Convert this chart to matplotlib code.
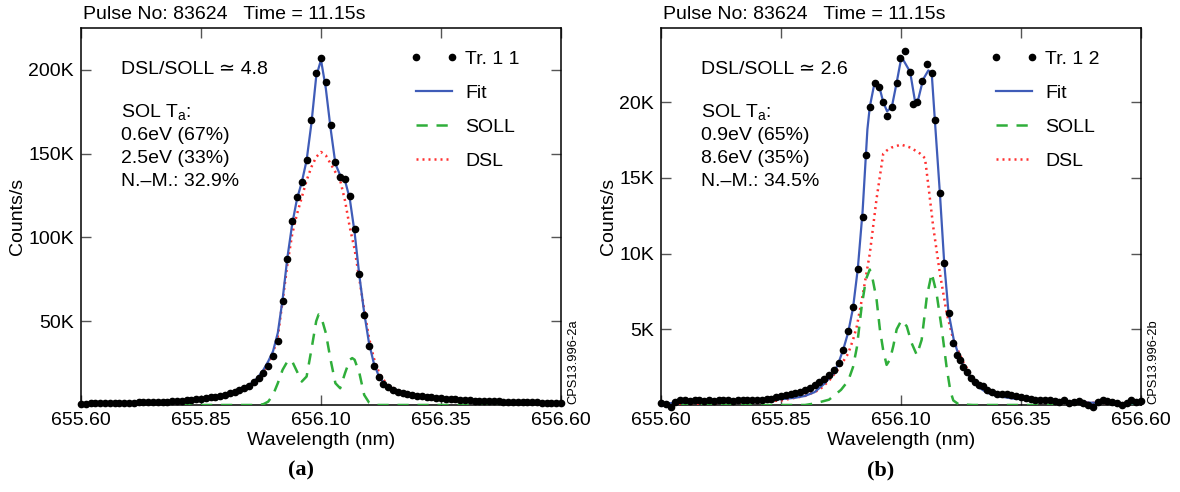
import numpy as np
import matplotlib
matplotlib.use("Agg")
import matplotlib.pyplot as plt

plt.rcParams['font.family'] = ['Liberation Sans', 'DejaVu Sans']
plt.rcParams['mathtext.fontset'] = 'custom'
plt.rcParams['mathtext.rm'] = 'Liberation Sans'
plt.rcParams['mathtext.it'] = 'Liberation Sans'

# ---------------- data (values in K counts/s) ----------------
xticks = [655.60, 655.85, 656.10, 656.35, 656.60]
xtick_labels = ["655.60", "655.85", "656.10", "656.35", "656.60"]

# Panel (a)
a_yticks = [50, 100, 150, 200]
a_ytick_labels = ["50K", "100K", "150K", "200K"]
a_data_wl = np.round(np.arange(655.60, 656.605, 0.01), 2)
a_data = [0.7, 0.8, 0.9, 0.9, 1.0, 1.0, 1.1, 1.1, 1.2, 1.2, 1.3,
          1.4, 1.5, 1.5, 1.6, 1.7, 1.8, 1.9, 2.0, 2.2, 2.4,
          2.6, 2.8, 3.0, 3.3, 3.7, 4.1, 4.5, 5.0, 5.5, 6.1,
          6.9, 7.8, 8.8, 10.0, 11.5, 13.5, 16, 19, 23, 29,
          38, 62, 87, 110, 124, 133, 146, 170, 198, 207,
          193, 167, 145, 136, 135, 125, 105, 78, 54, 35,
          23, 17, 12.5, 10.5, 9.0, 8.0, 7.2, 6.5, 6.0, 5.5,
          5.1, 4.8, 4.5, 4.2, 4.0, 3.7, 3.5, 3.3, 3.1, 2.9,
          2.8, 2.6, 2.5, 2.4, 2.3, 2.2, 2.1, 2.0, 1.9, 1.8,
          1.7, 1.7, 1.6, 1.5, 1.5, 1.4, 1.4, 1.3, 1.3, 1.2]
a_fit_wl = [655.60, 655.65, 655.70, 655.75, 655.80, 655.85, 655.88, 655.90, 655.92, 655.94,
            655.96, 655.97, 655.98, 655.99, 656.00, 656.01, 656.02, 656.03, 656.04, 656.05,
            656.06, 656.07, 656.08, 656.09, 656.10, 656.11, 656.12, 656.13, 656.14, 656.15,
            656.16, 656.17, 656.18, 656.19, 656.20, 656.21, 656.22, 656.23, 656.24, 656.26,
            656.28, 656.30, 656.35, 656.40, 656.45, 656.50, 656.55, 656.60]
a_fit = [0.8, 1.0, 1.3, 1.8, 2.5, 3.7, 4.9, 6.0, 7.6, 10,
         14, 17, 21, 26, 32, 43, 63, 88, 108, 123,
         133, 146, 168, 196, 206, 189, 165, 144, 137, 134,
         123, 103, 77, 55, 37, 25, 17.5, 13.5, 11, 8.2,
         6.4, 5.2, 3.4, 2.4, 1.9, 1.5, 1.2, 1.0]
a_dsl = [0.7, 0.9, 1.2, 1.7, 2.4, 3.5, 4.7, 5.8, 7.3, 9.6,
         13.5, 16.5, 20, 25, 31, 41, 62, 84, 102, 114,
         124, 134, 142, 148, 151, 149, 144, 139, 134, 122,
         106, 93, 75, 57, 40, 28, 20, 15, 12, 8.5,
         6.4, 5.1, 3.3, 2.3, 1.8, 1.4, 1.1, 0.9]
a_soll_wl = [655.60, 655.97, 655.98, 655.99, 656.00, 656.01, 656.02, 656.03, 656.035, 656.04,
             656.05, 656.06, 656.07, 656.08, 656.09, 656.095, 656.10, 656.11, 656.12, 656.13,
             656.14, 656.15, 656.16, 656.165, 656.17, 656.18, 656.19, 656.20, 656.21, 656.60]
a_soll = [0, 0, 0.5, 2, 6, 13, 21, 26, 27, 26,
          20, 14, 17, 33, 50, 54, 53, 43, 27, 13,
          10, 19, 27, 28, 27, 19, 6, 1.5, 0, 0]

# Panel (b)
b_yticks = [5, 10, 15, 20]
b_ytick_labels = ["5K", "10K", "15K", "20K"]
b_data_wl = [655.60, 655.61, 655.62, 655.63, 655.64, 655.65, 655.66, 655.67, 655.68, 655.69,
             655.70, 655.71, 655.72, 655.73, 655.74, 655.75, 655.76, 655.77, 655.78, 655.79,
             655.80, 655.81, 655.82, 655.83, 655.84, 655.85, 655.86, 655.87, 655.88, 655.89,
             655.90, 655.91, 655.92, 655.93, 655.94, 655.95, 655.96, 655.97, 655.98, 655.99,
             656.00, 656.01, 656.02, 656.027, 656.035, 656.046, 656.054, 656.063, 656.071, 656.081,
             656.091, 656.098, 656.108, 656.119, 656.126, 656.133, 656.143, 656.154, 656.164, 656.171,
             656.181, 656.19, 656.199, 656.208, 656.216, 656.223, 656.23, 656.237, 656.245, 656.254,
             656.262, 656.27, 656.28, 656.29, 656.30, 656.31, 656.32, 656.33, 656.34, 656.35,
             656.36, 656.37, 656.38, 656.39, 656.40, 656.41, 656.42, 656.43, 656.44, 656.45,
             656.46, 656.47, 656.48, 656.49, 656.50, 656.51, 656.52, 656.53, 656.54, 656.55,
             656.56, 656.57, 656.58, 656.59, 656.60]
b_data = [0.1, 0.05, -0.1, 0.2, 0.3, 0.3, 0.25, 0.3, 0.3, 0.25,
          0.3, 0.25, 0.3, 0.3, 0.3, 0.25, 0.3, 0.35, 0.3, 0.35,
          0.3, 0.35, 0.4, 0.4, 0.5, 0.6, 0.65, 0.7, 0.8, 0.85,
          1.0, 1.15, 1.35, 1.5, 1.7, 2.0, 2.3, 2.8, 3.6, 4.9,
          6.5, 9.0, 12.4, 16.5, 19.7, 21.3, 21.0, 20.0, 19.1, 19.7,
          21.3, 22.9, 23.4, 22.0, 19.9, 20.0, 21.4, 22.5, 21.9, 18.8,
          14.0, 9.4, 6.1, 4.1, 3.3, 3.0, 2.5, 2.2, 1.8, 1.55,
          1.35, 1.25, 1.0, 0.85, 0.75, 0.72, 0.7, 0.68, 0.62, 0.5,
          0.45, 0.4, 0.35, 0.35, 0.3, 0.3, 0.25, 0.2, 0.3, 0.15,
          0.2, 0.25, 0.1, 0.0, -0.1, 0.2, 0.3, 0.25, 0.2, 0.1,
          0.0, 0.15, 0.3, 0.2, 0.25]
b_fit_wl = [655.60, 655.65, 655.70, 655.75, 655.80, 655.85, 655.88, 655.90, 655.92, 655.94,
            655.96, 655.97, 655.98, 655.99, 656.00, 656.01, 656.02, 656.03, 656.035, 656.045,
            656.055, 656.063, 656.071, 656.081, 656.091, 656.101, 656.119, 656.129, 656.136, 656.146,
            656.157, 656.164, 656.171, 656.181, 656.19, 656.199, 656.21, 656.22, 656.23, 656.24,
            656.26, 656.28, 656.30, 656.33, 656.40, 656.50, 656.60]
b_fit = [0.1, 0.15, 0.2, 0.25, 0.3, 0.38, 0.48, 0.6, 0.85, 1.4,
         2.1, 2.8, 3.7, 4.8, 6.4, 9.0, 12.8, 18.2, 19.7, 21.3,
         21.0, 20.0, 19.4, 19.7, 21.3, 23.0, 22.0, 20.1, 20.2, 21.5,
         22.1, 21.9, 18.6, 14.0, 9.4, 6.1, 4.3, 3.3, 2.6, 2.0,
         1.2, 0.8, 0.6, 0.44, 0.25, 0.15, 0.1]
b_dsl_wl = [655.60, 655.70, 655.80, 655.85, 655.90, 655.93, 655.95, 655.97, 655.99, 656.00,
            656.008, 656.021, 656.035, 656.049, 656.063, 656.07, 656.08, 656.09, 656.10, 656.12,
            656.14, 656.15, 656.157, 656.167, 656.181, 656.195, 656.209, 656.23, 656.25, 656.27,
            656.30, 656.35, 656.40, 656.50, 656.60]
b_dsl = [0.05, 0.1, 0.2, 0.3, 0.6, 1.0, 1.6, 2.4, 3.4, 4.3,
         5.2, 7.4, 10.0, 13.6, 16.6, 16.8, 17.0, 17.1, 17.2, 17.0,
         16.6, 16.3, 14.5, 11.8, 8.7, 6.1, 4.3, 2.8, 1.8, 1.2,
         0.8, 0.45, 0.3, 0.15, 0.1]
b_soll_wl = [655.60, 655.90, 655.92, 655.95, 655.975, 655.99, 656.00, 656.008, 656.018, 656.027,
             656.035, 656.041, 656.049, 656.056, 656.063, 656.07, 656.077, 656.084, 656.091, 656.101,
             656.112, 656.122, 656.133, 656.143, 656.154, 656.164, 656.174, 656.185, 656.195, 656.203,
             656.209, 656.22, 656.25, 656.60]
b_soll = [0, 0, 0.1, 0.35, 1.0, 1.6, 2.5, 3.8, 6.5, 8.3,
          8.95, 8.3, 7.0, 5.0, 3.6, 2.65, 3.0, 3.9, 5.0, 5.6,
          5.2, 4.1, 3.3, 4.3, 7.2, 8.7, 7.4, 5.0, 2.5, 0.9,
          0.3, 0.05, 0, 0]

panels = [
    dict(data_wl=a_data_wl, data=a_data, fit_wl=a_fit_wl, fit=a_fit, dsl_wl=a_fit_wl, dsl=a_dsl,
         soll_wl=a_soll_wl, soll=a_soll, ylim=225, yticks=a_yticks, yticklabels=a_ytick_labels,
         tr="Tr. 1 1", ratio="4.8", lines=["0.6eV (67%)", "2.5eV (33%)", "N.\u2013M.: 32.9%"],
         code="CPS13.996-2a", tag="(a)", left=81),
    dict(data_wl=b_data_wl, data=b_data, fit_wl=b_fit_wl, fit=b_fit, dsl_wl=b_dsl_wl, dsl=b_dsl,
         soll_wl=b_soll_wl, soll=b_soll, ylim=24.9, yticks=b_yticks, yticklabels=b_ytick_labels,
         tr="Tr. 1 2", ratio="2.6", lines=["0.9eV (65%)", "8.6eV (35%)", "N.\u2013M.: 34.5%"],
         code="CPS13.996-2b", tag="(b)", left=661),
]

W, H = 1180, 492
fig = plt.figure(figsize=(W / 100, H / 100), dpi=100)

FIT_C = "#3f5cb8"
SOLL_C = "#2fae3a"
DSL_C = "#ff3030"
FS = 14

for p in panels:
    L = p["left"]
    ax = fig.add_axes([L / W, 1 - 405 / H, 480 / W, 377 / H])
    ax.plot(p["dsl_wl"], p["dsl"], color=DSL_C, lw=1.8, ls=(0, (0.8, 1.6)), label="DSL", zorder=3)
    ax.plot(p["soll_wl"], p["soll"], color=SOLL_C, lw=1.8, ls=(0, (4.5, 3.5)), label="SOLL", zorder=3)
    ax.plot(p["fit_wl"], p["fit"], color=FIT_C, lw=1.6, label="Fit", zorder=4)
    ax.plot(p["data_wl"], p["data"], ls="none", marker="o", ms=4.5, color="black",
            label=p["tr"], zorder=5, clip_on=False)
    ax.set_xlim(655.60, 656.60)
    ax.set_ylim(0, p["ylim"])
    ax.set_xticks(xticks)
    ax.set_xticklabels(xtick_labels)
    ax.set_yticks(p["yticks"])
    ax.set_yticklabels(p["yticklabels"])
    ax.tick_params(direction="in", length=7, width=1, top=True, right=True,
                   labelsize=FS, pad=5, color="#555555")
    for s in ax.spines.values():
        s.set_linewidth(1.1)
    ax.set_xlabel("Wavelength (nm)", fontsize=FS, labelpad=2)
    ax.set_ylabel("Counts/s", fontsize=FS, labelpad=2)

    h, l = ax.get_legend_handles_labels()
    order = [3, 2, 1, 0]
    ax.legend([h[i] for i in order], [l[i] for i in order], loc="upper left",
              bbox_to_anchor=(0.685, 0.94), frameon=False, fontsize=FS,
              numpoints=2, handlelength=2.45, handletextpad=0.4, labelspacing=0.84,
              borderaxespad=0, borderpad=0)

    ax.text(0.004, 1.012, "Pulse No: 83624   Time = 11.15s", transform=ax.transAxes,
            fontsize=FS, ha="left", va="bottom")

    tx = (L + 40) / W
    fig.text(tx, 1 - 70 / H, "DSL/SOLL \u2243 " + p["ratio"], fontsize=FS, va="center", ha="left")
    fig.text(tx, 1 - 112 / H, "SOL T$_\\mathrm{a}$:", fontsize=FS, va="center", ha="left")
    for i, s in enumerate(p["lines"]):
        fig.text(tx, 1 - (135 + 23.5 * i) / H, s, fontsize=FS, va="center", ha="left")

    fig.text((L + 486) / W, 1 - 404 / H, p["code"], fontsize=9.3, rotation=90,
             ha="left", va="bottom")
    fig.text((L + 220) / W, 1 - 470 / H, p["tag"], fontsize=16, fontweight="bold",
             family="Liberation Serif", ha="center", va="center")

fig.savefig("out.png", dpi=100)
